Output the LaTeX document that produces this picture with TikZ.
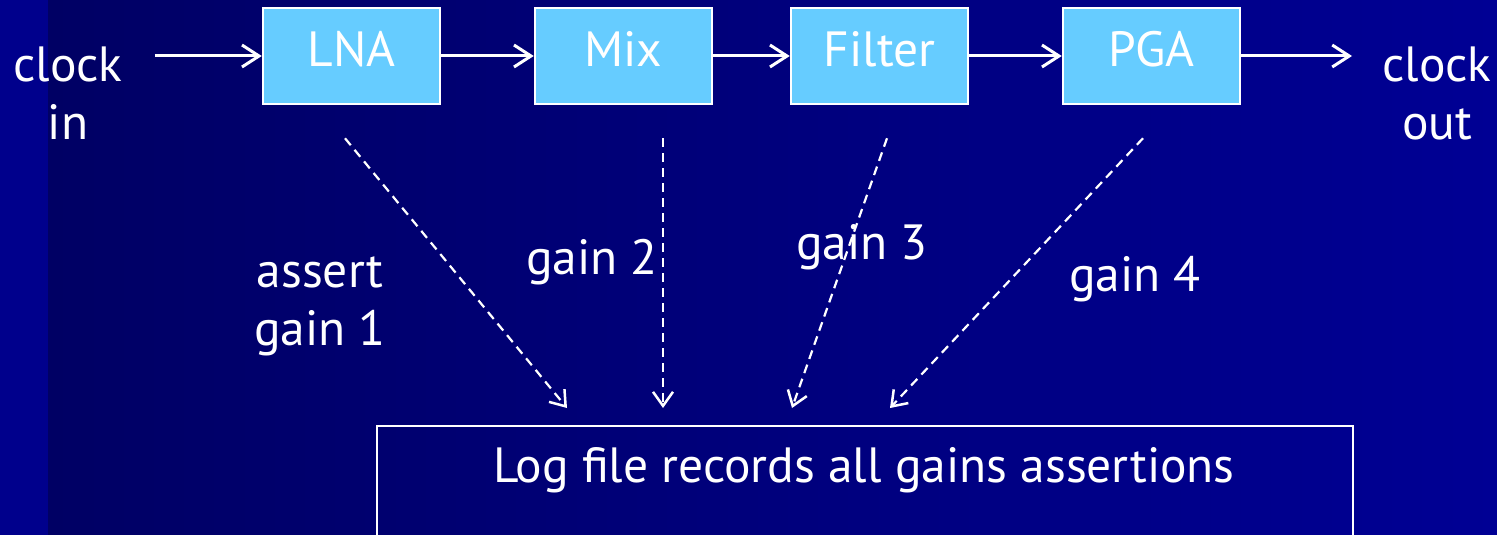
\documentclass[tikz,border=0pt]{standalone}
\usepackage{fontspec}
\setmainfont{PT Sans}
\usepackage{tikz}
\usetikzlibrary{positioning, arrows.meta, calc}
\definecolor{sl-navy}{RGB}{0,0,100}
\definecolor{sl-deep}{RGB}{0,0,148}
\definecolor{sl-strip}{RGB}{0,0,140}
\definecolor{sl-sky}{RGB}{102,204,255}
\tikzset{
  sl@block/.style={
    draw=white, fill=sl-sky, line width=2.5pt,
    minimum width=177pt, minimum height=96pt,
    inner sep=0pt, text=white, font=\fontsize{49.5}{58}\selectfont,
    text height=35pt, text depth=14pt
  },
  sl@txt/.style={text=white, inner sep=0pt, align=center,
    font=\fontsize{49.5}{58}\selectfont},
  sl@arr/.style={-{Straight Barb[length=17pt,width=22pt,line width=3pt]},
    white, line width=3pt},
  sl@dash/.style={-{Straight Barb[length=14pt,width=20pt,line width=2.5pt]},
    white, line width=2.2pt, dash pattern=on 9pt off 6pt},
}
\begin{document}
\begin{tikzpicture}[x=1pt, y=-1pt]
  % background
  \useasboundingbox (0,0) rectangle (1497,535);
  \shade[left color=sl-navy, right color=sl-deep] (48,0) rectangle (1497,535);
  \fill[sl-strip] (0,0) rectangle (48,535);

  % signal chain
  \node[sl@block] (lna)    at (351.5,56) {LNA};
  \node[sl@block] (mix)    at (623.5,56) {Mix};
  \node[sl@block] (filt)   at (879.5,56) {Filter};
  \node[sl@block] (pga)    at (1151.5,56) {PGA};
  \node[sl@txt, anchor=north] (clkin)  at (68,47)   {clock\\in};
  \node[sl@txt, anchor=north] (clkout) at (1437,47) {clock\\out};

  \draw[sl@arr] (clkin.east |- lna.west) ++(32,0) coordinate (cin) -- (lna.west);
  \draw[sl@arr] (lna.east)  -- (mix.west);
  \draw[sl@arr] (mix.east)  -- (filt.west);
  \draw[sl@arr] (filt.east) -- (pga.west);
  \coordinate (cout) at (1352,56);
  \draw[sl@arr] (pga.east)  -- (cout);

  % log box
  \node[draw=white, line width=2pt, minimum width=976pt, minimum height=140pt,
        anchor=north west, inner sep=0pt] (log) at (376,425) {};
  \node[sl@txt, anchor=base] (logtxt) at (864,482) {Log file records all gains assertions};

  % gain assertions
  \coordinate (s1) at ($(lna.south)+(-6.5,33)$);
  \coordinate (s2) at ($(mix.south)+(39.5,33)$);
  \coordinate (s3) at ($(filt.south)+(7.5,33)$);
  \coordinate (s4) at ($(pga.south)+(-8.5,33)$);
  \coordinate (e1) at ($(log.north west)+(191,-17)$);
  \coordinate (e2) at ($(log.north west)+(287,-17)$);
  \coordinate (e3) at ($(log.north west)+(416,-17)$);
  \coordinate (e4) at ($(log.north west)+(514,-17)$);
  \draw[sl@dash] (s1) -- (e1);
  \draw[sl@dash] (s2) -- (e2);
  \draw[sl@dash] (s3) -- (e3);
  \draw[sl@dash] (s4) -- (e4);

  \node[sl@txt, anchor=north] (g1) at (320,257) {assert\\gain 1};
  \node[sl@txt] (g2) at (592,262) {gain 2};
  \node[sl@txt] (g3) at (862,247) {gain 3};
  \node[sl@txt] (g4) at (1135,279) {gain 4};
\end{tikzpicture}
\end{document}
